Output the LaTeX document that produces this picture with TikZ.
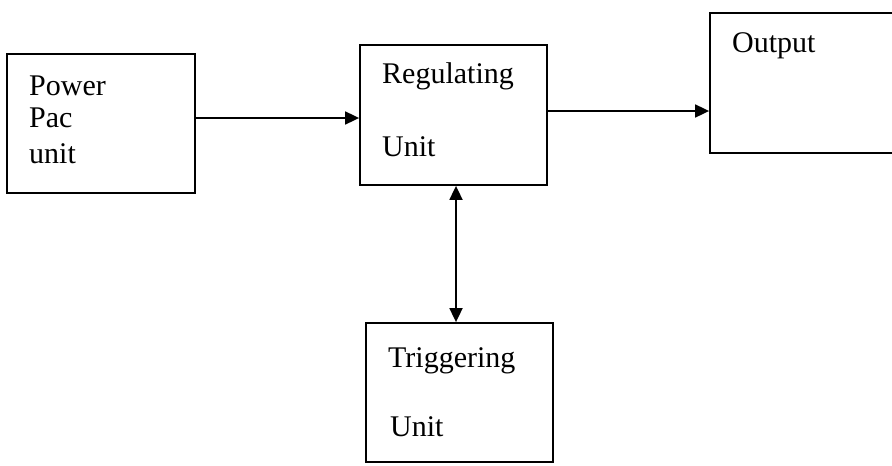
\documentclass[tikz,border=0pt]{standalone}
\usepackage{fontspec}
\setmainfont{Liberation Serif}
\usetikzlibrary{arrows.meta}
\begin{document}
\begin{tikzpicture}[x=1pt,y=-1pt,
  blk/.style={draw,line width=1.8pt,rectangle,inner sep=0pt},
  lbl/.style={anchor=base west,inner sep=0pt,font=\fontsize{30}{36}\selectfont},
  conn/.style={line width=1.8pt,-{Triangle[length=14pt,width=13pt]}},
  dconn/.style={line width=1.8pt,{Triangle[length=14pt,width=13pt]}-{Triangle[length=14pt,width=13pt]}}]
\useasboundingbox (0,0) rectangle (892,466);
\clip (0,0) rectangle (892,466);
\node[blk,minimum width=188pt,minimum height=139pt] (pwr) at (101,123.5) {};
\node[blk,minimum width=187pt,minimum height=140pt] (reg) at (453.5,115) {};
\node[blk,minimum width=190pt,minimum height=140pt] (out) at (805,83) {};
\node[blk,minimum width=187pt,minimum height=139pt] (trg) at (459.5,392.5) {};
\node[lbl] (t1) at (29,95) {Power};
\node[lbl] (t2) at (29,127) {Pac};
\node[lbl] (t3) at (29,163) {unit};
\node[lbl] (t4) at (382,83) {Regulating};
\node[lbl] (t5) at (382,156) {Unit};
\node[lbl] (t6) at (732,52) {Output};
\node[lbl] (t7) at (388,367) {Triggering};
\node[lbl] (t8) at (390,436) {Unit};
\coordinate (ya) at (0,118);
\coordinate (yb) at (0,111);
\coordinate (xv) at (456,0);
\draw[conn] (pwr.east |- ya) -- (reg.west |- ya);
\draw[conn] (reg.east |- yb) -- (out.west |- yb);
\draw[dconn] (xv |- reg.south) -- (xv |- trg.north);
\end{tikzpicture}
\end{document}
